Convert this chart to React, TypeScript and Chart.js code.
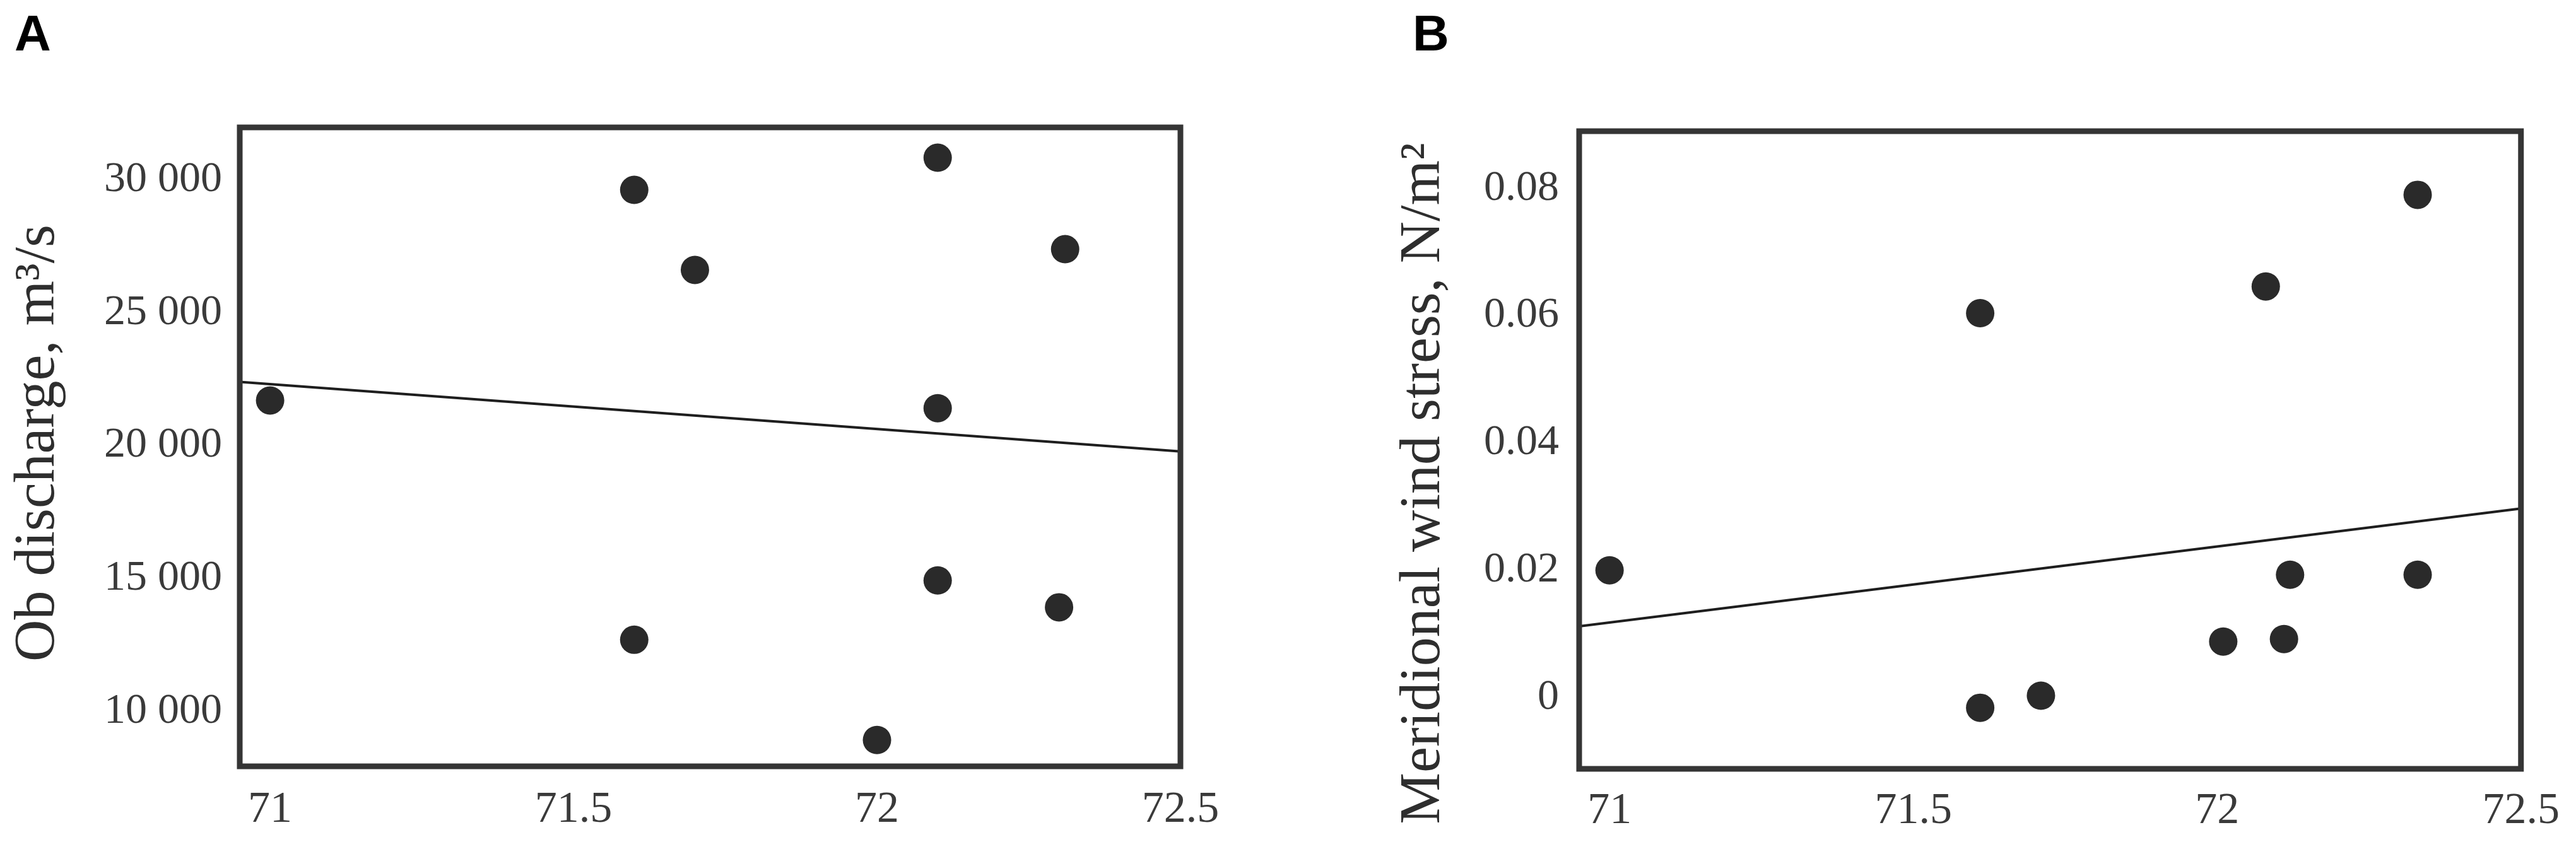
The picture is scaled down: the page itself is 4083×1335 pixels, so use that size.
import React, { useEffect, useRef } from "react";
import { Chart, registerables } from "chart.js";

Chart.register(...registerables);

// ---- data ----
const xTicks = [71, 71.5, 72, 72.5];
const xRange = [70.95, 72.5];

const dischargeX = [71.0, 71.6, 71.7, 72.1, 72.31, 72.1, 72.1, 72.3, 71.6, 72.0];
const dischargeY = [21700, 29620, 26610, 30830, 27390, 21410, 14930, 13920, 12700, 8930];
const dischargeTrendX = [70.95, 72.5];
const dischargeTrendY = [22400, 19780];
const dischargeTicks = [10000, 15000, 20000, 25000, 30000];
const dischargeRange = [7940, 31970];

const windX = [71.0, 71.61, 71.61, 71.71, 72.01, 72.11, 72.12, 72.08, 72.33, 72.33];
const windY = [0.02, 0.0604, -0.0016, 0.0003, 0.0088, 0.0092, 0.0193, 0.0646, 0.079, 0.0193];
const windTrendX = [70.95, 72.5];
const windTrendY = [0.0112, 0.0297];
const windTicks = [0, 0.02, 0.04, 0.06, 0.08];
const windRange = [-0.0112, 0.089];

const SERIF = '"Liberation Serif", "Times New Roman", serif';

const framePlugin = {
  id: "frame",
  afterDraw(chart: any, _args: any, opts: any) {
    const { ctx, chartArea: a } = chart;
    ctx.save();
    ctx.strokeStyle = opts.color || "#333";
    ctx.lineWidth = opts.width || 9;
    ctx.strokeRect(a.left, a.top, a.right - a.left, a.bottom - a.top);
    ctx.restore();
  },
};

const sideTitlePlugin = {
  id: "sideTitle",
  afterDraw(chart: any, _args: any, opts: any) {
    const { ctx, chartArea: a } = chart;
    ctx.save();
    ctx.translate(opts.x, (a.top + a.bottom) / 2 + (opts.shift || 0));
    ctx.rotate(-Math.PI / 2);
    ctx.font = `${opts.size}px ${SERIF}`;
    ctx.fillStyle = opts.color || "#2e2e2e";
    ctx.textAlign = "center";
    ctx.textBaseline = "middle";
    ctx.fillText(opts.text, 0, 0);
    ctx.restore();
  },
};

function toPoints(xs: number[], ys: number[]) {
  return xs.map((x, i) => ({ x, y: ys[i] }));
}

function spaced(v: number) {
  return String(Math.round(v)).replace(/\B(?=(\d{3})+(?!\d))/g, " ");
}

interface PanelProps {
  width: number;
  height: number;
  left: number;
  xs: number[];
  ys: number[];
  tx: number[];
  ty: number[];
  yTicks: number[];
  yRange: number[];
  yFormat: (v: number) => string;
  title: string;
  titleX: number;
  titleShift: number;
  pad: { top: number; right: number };
  yAxisWidth: number;
  xAxisHeight: number;
  yTickPad: number;
  xTickPad: number;
}

function Panel(p: PanelProps) {
  const ref = useRef<HTMLCanvasElement | null>(null);
  useEffect(() => {
    if (!ref.current) return;
    const chart = new Chart(ref.current, {
      type: "scatter",
      data: {
        datasets: [
          {
            data: toPoints(p.xs, p.ys),
            pointRadius: 22.5,
            pointBackgroundColor: "#2a2a2a",
            pointBorderWidth: 0,
            backgroundColor: "#2a2a2a",
          },
          {
            data: toPoints(p.tx, p.ty),
            showLine: true,
            pointRadius: 0,
            borderColor: "#1e1e1e",
            borderWidth: 4,
          },
        ],
      },
      options: {
        responsive: false,
        animation: false,
        events: [],
        layout: { padding: { left: 0, top: p.pad.top, right: p.pad.right, bottom: 0 } },
        plugins: {
          legend: { display: false },
          tooltip: { enabled: false },
          frame: { color: "#353535", width: 9 },
          sideTitle: { text: p.title, x: p.titleX, shift: p.titleShift, size: 92, color: "#2e2e2e" },
        } as any,
        scales: {
          x: {
            type: "linear",
            min: xRange[0],
            max: xRange[1],
            grid: { display: false, drawTicks: false },
            border: { display: false },
            afterBuildTicks: (s: any) => {
              s.ticks = xTicks.map((v) => ({ value: v }));
            },
            afterFit: (s: any) => {
              s.height = p.xAxisHeight;
            },
            ticks: {
              padding: p.xTickPad,
              maxRotation: 0,
              autoSkip: false,
              color: "#3a3a3a",
              font: { family: SERIF, size: 70 },
              callback: (v: any) => String(v),
            },
          },
          y: {
            type: "linear",
            min: p.yRange[0],
            max: p.yRange[1],
            grid: { display: false, drawTicks: false },
            border: { display: false },
            afterBuildTicks: (s: any) => {
              s.ticks = p.yTicks.map((v) => ({ value: v }));
            },
            afterFit: (s: any) => {
              s.width = p.yAxisWidth;
            },
            ticks: {
              padding: p.yTickPad,
              autoSkip: false,
              color: "#3a3a3a",
              font: { family: SERIF, size: 68 },
              callback: (v: any) => p.yFormat(Number(v)),
            },
          },
        },
      },
      plugins: [framePlugin, sideTitlePlugin],
    });
    return () => chart.destroy();
  }, []);
  return (
    <canvas
      ref={ref}
      width={p.width}
      height={p.height}
      style={{ position: "absolute", left: p.left, top: 0, width: p.width, height: p.height }}
    />
  );
}

const labelStyle: React.CSSProperties = {
  position: "absolute",
  top: 13,
  fontFamily: '"Liberation Sans", Arial, sans-serif',
  fontWeight: 700,
  fontSize: 80,
  lineHeight: "80px",
  color: "#000",
};

export default function App() {
  return (
    <div
      style={{
        position: "fixed",
        left: 0,
        top: 0,
        width: 4083,
        height: 1335,
        background: "#fff",
        overflow: "hidden",
      }}
    >
      <Panel
        width={2100}
        height={1335}
        left={0}
        xs={dischargeX}
        ys={dischargeY}
        tx={dischargeTrendX}
        ty={dischargeTrendY}
        yTicks={dischargeTicks}
        yRange={dischargeRange}
        yFormat={spaced}
        title={"Ob discharge, m\u00B3/s"}
        titleX={61}
        titleShift={-6}
        pad={{ top: 202, right: 229 }}
        yAxisWidth={380}
        xAxisHeight={120}
        yTickPad={28}
        xTickPad={28}
      />
      <Panel
        width={1983}
        height={1335}
        left={2100}
        xs={windX}
        ys={windY}
        tx={windTrendX}
        ty={windTrendY}
        yTicks={windTicks}
        yRange={windRange}
        yFormat={(v) => (v === 0 ? "0" : v.toFixed(2))}
        title={"Meridional wind stress, N/m\u00B2"}
        titleX={157}
        titleShift={53}
        pad={{ top: 208, right: 82 }}
        yAxisWidth={403}
        xAxisHeight={116}
        yTickPad={32}
        xTickPad={26}
      />
      <div style={{ ...labelStyle, left: 23 }}>A</div>
      <div style={{ ...labelStyle, left: 2239 }}>B</div>
    </div>
  );
}
